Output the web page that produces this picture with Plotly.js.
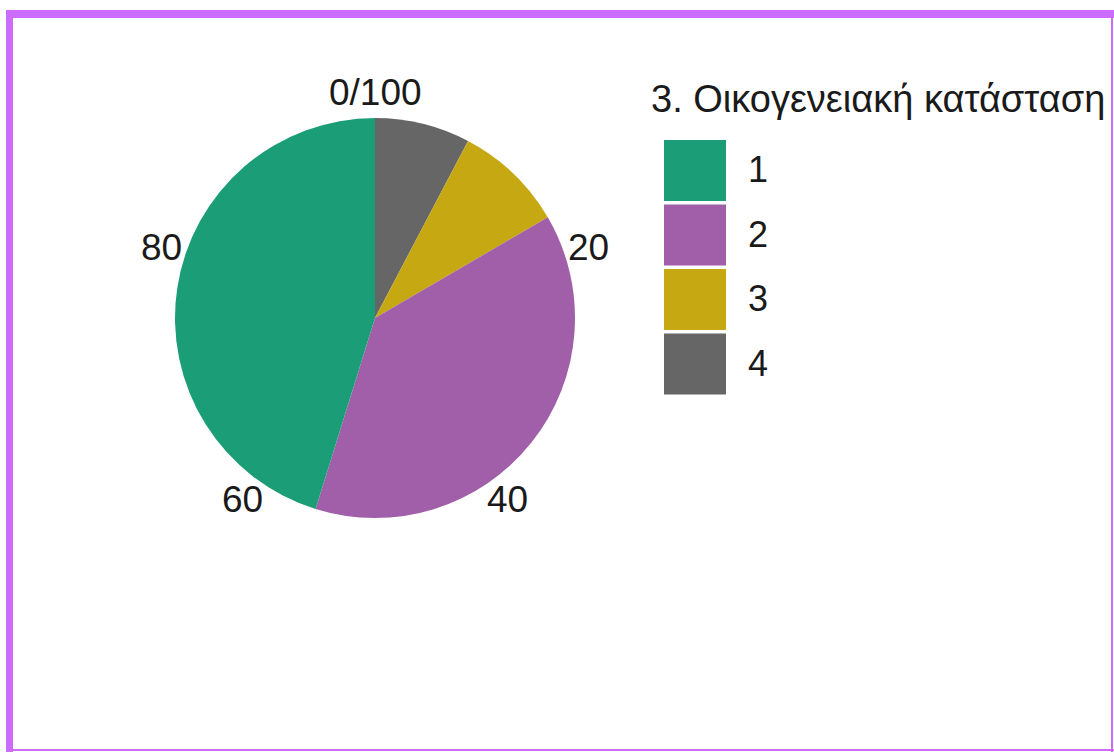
<!DOCTYPE html>
<html>
<head>
<meta charset="utf-8">
<script src="https://cdn.plot.ly/plotly-3.0.1.min.js"></script>
<style>
html,body{margin:0;padding:0;background:#fff;}
#chart{width:1114px;height:752px;}
</style>
</head>
<body>
<div id="chart"></div>
<script>
// Data
const categories = ['1', '2', '3', '4'];
const values = [45.2, 38.2, 8.9, 7.7];
const colors = ['#1b9e77', '#a05fa8', '#c6a812', '#666666'];
const tickVals = [0, 20, 40, 60, 80];
const tickText = ['0/100', '20', '40', '60', '80'];
const legendTitle = '3. Οικογενειακή κατάσταση';

const W = 1114, H = 752;
const px = x => x / W;
const py = y => 1 - y / H;

// Pie geometry (pixels)
const cx = 375, cy = 318, R = 200;

// Stacked like a polar bar: last level first, going clockwise from 12 o'clock
const trace = {
  type: 'pie',
  labels: categories.slice().reverse(),
  values: values.slice().reverse(),
  sort: false,
  direction: 'clockwise',
  rotation: 0,
  textinfo: 'none',
  hoverinfo: 'label+value',
  marker: {colors: colors.slice().reverse(), line: {width: 0}},
  domain: {x: [px(cx - R), px(cx + R)], y: [py(cy + R), py(cy - R)]},
  showlegend: false
};

const font = {family: 'Liberation Sans, Arial, sans-serif', color: '#1a1a1a'};
const annotations = [];
const shapes = [];

// Angular tick labels
const total = 100;
tickVals.forEach((v, i) => {
  const th = v / total * 2 * Math.PI;
  const r = R + 25;
  annotations.push({
    xref: 'paper', yref: 'paper',
    x: px(cx + r * Math.sin(th)), y: py(cy - 1 - r * Math.cos(th)),
    xanchor: 'center', yanchor: 'middle',
    text: tickText[i], showarrow: false,
    font: Object.assign({}, font, {size: 37})
  });
});

// Legend title
annotations.push({
  xref: 'paper', yref: 'paper', x: px(649), y: py(99),
  xanchor: 'left', yanchor: 'middle', text: legendTitle, showarrow: false,
  font: Object.assign({}, font, {size: 38})
});

// Legend keys
categories.forEach((c, i) => {
  const y0 = 140 + i * 64.5;
  shapes.push({
    type: 'rect', xref: 'paper', yref: 'paper',
    x0: px(664), x1: px(726), y0: py(y0), y1: py(y0 + 61),
    fillcolor: colors[i], line: {width: 0}
  });
  annotations.push({
    xref: 'paper', yref: 'paper', x: px(746), y: py(y0 + 29.5),
    xanchor: 'left', yanchor: 'middle', text: c, showarrow: false,
    font: Object.assign({}, font, {size: 36})
  });
});

// Border
const bc = '#cc6cff';
[[6, 10, 1114, 18], [6, 10, 13, 752], [1111, 10, 1113, 752], [6, 749, 1114, 751]].forEach(b => {
  shapes.push({
    type: 'rect', xref: 'paper', yref: 'paper', layer: 'above',
    x0: px(b[0]), x1: px(b[2]), y0: py(b[3]), y1: py(b[1]),
    fillcolor: bc, line: {width: 0}
  });
});

const layout = {
  width: W, height: H,
  margin: {l: 0, r: 0, t: 0, b: 0},
  paper_bgcolor: '#ffffff',
  showlegend: false,
  annotations: annotations,
  shapes: shapes
};

Plotly.newPlot('chart', [trace], layout, {displayModeBar: false, staticPlot: true});
</script>
</body>
</html>
